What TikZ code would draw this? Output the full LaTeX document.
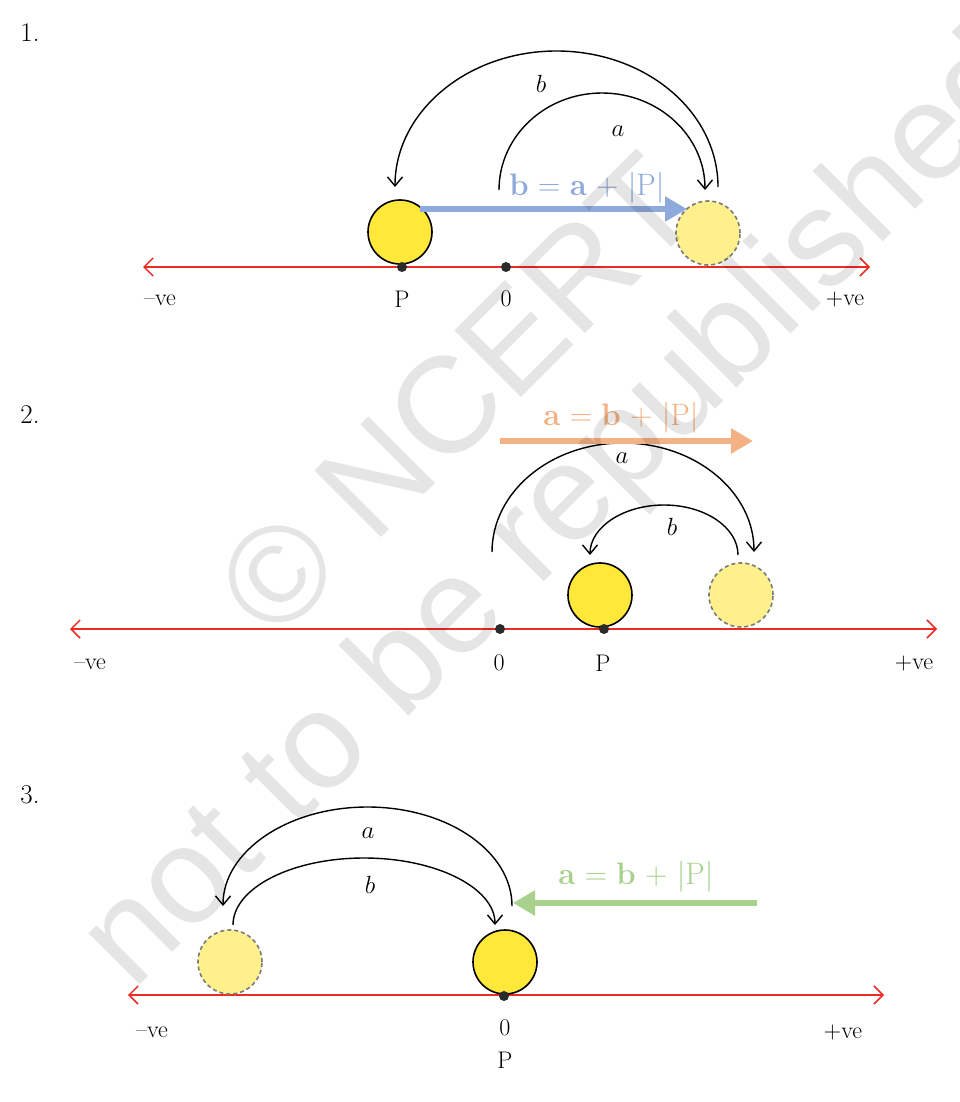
\documentclass[tikz,border=0pt]{standalone}
\usepackage{fontspec}
\newfontfamily\wmfont{Liberation Sans}
\usetikzlibrary{arrows.meta}
\definecolor{axisred}{HTML}{EE2A24}
\definecolor{sunfill}{HTML}{FFE83A}
\definecolor{ghostfill}{HTML}{FFF08C}
\definecolor{ghostedge}{HTML}{7A7A7A}
\definecolor{dotc}{HTML}{2B2B2B}
\definecolor{eqblue}{HTML}{8EA9DB}
\definecolor{eqorange}{HTML}{F4B183}
\definecolor{eqgreen}{HTML}{A9D18E}
\begin{document}
\begin{tikzpicture}[x=1pt,y=-1pt,
  axis/.style={draw=axisred, line width=1.5pt, {Straight Barb[length=9pt,width=18pt]}-{Straight Barb[length=9pt,width=18pt]}},
  sun/.style={circle, draw=black, line width=1.6pt, fill=sunfill, minimum size=64pt, inner sep=0pt},
  ghost/.style={circle, draw=ghostedge, dash pattern=on 4pt off 3pt, line width=1.6pt, fill=ghostfill, minimum size=64pt, inner sep=0pt},
  pt/.style={circle, fill=dotc, minimum size=10pt, inner sep=0pt},
  lab/.style={font=\fontsize{24}{24}\selectfont, inner sep=0pt},
  num/.style={font=\fontsize{27}{27}\selectfont, inner sep=0pt},
  jump/.style={draw=black, line width=1.4pt, -{Straight Barb[length=9pt,width=15pt]}},
  jl/.style={font=\fontsize{27}{27}\selectfont, inner sep=0pt},
  eq/.style={font=\fontsize{31}{31}\selectfont, inner sep=0pt},
  shiftarrow/.style={line width=5.5pt, -{Triangle[length=22pt,width=24pt]}},
  wm/.style={font=\wmfont\fontsize{137}{137}\selectfont, text=black, text opacity=0.10, rotate=45, inner sep=0pt, anchor=base west},
]
\useasboundingbox (0,0) rectangle (960,1102);
\clip (0,0) rectangle (960,1102);
\fill[white] (0,0) rectangle (960,1102);

% ---------- Diagram 1 ----------
\node[num] (n1) at (30,33) {1.};
\coordinate (L1) at (143,267);
\coordinate (R1) at (870,267);
\draw[axis] (L1) -- (R1);
\node[sun] (s1) at (400,232) {};
\node[ghost] (g1) at (708,233) {};
\node[pt] (p1) at (402,267) {};
\node[pt] (z1) at (506,267) {};
\node[lab] (mv1) at (160,300) {--ve};
\node[lab] (lp1) at (402,299) {P};
\node[lab] (l01) at (506,299) {0};
\node[lab] (pv1) at (845,300) {+ve};
\coordinate (b1s) at (718,187);
\draw[jump] (b1s) arc[start angle=0, end angle=180, x radius=161.5pt, y radius=136pt];
\node[jl] (bl1) at (541,84) {$b$};
\coordinate (a1s) at (499,190);
\draw[jump] (a1s) arc[start angle=180, end angle=0, x radius=103pt, y radius=97pt];
\node[jl] (al1) at (618,131) {$a$};
\coordinate (e1s) at (420,209);
\coordinate (e1e) at (687,209);
\draw[shiftarrow, eqblue, fill=eqblue] (e1s) -- (e1e);
\node[eq, text=eqblue] (eq1) at (587,188) {\textbf{b} = \textbf{a} + |P|};

% ---------- Diagram 2 ----------
\node[num] (n2) at (30,415) {2.};
\coordinate (L2) at (70,629);
\coordinate (R2) at (937,629);
\draw[axis] (L2) -- (R2);
\node[sun] (s2) at (600,595) {};
\node[ghost] (g2) at (741,595) {};
\node[pt] (z2) at (500,629) {};
\node[pt] (p2) at (604,629) {};
\node[lab] (mv2) at (90,664) {--ve};
\node[lab] (l02) at (499,663) {0};
\node[lab] (lp2) at (603,663) {P};
\node[lab] (pv2) at (914,664) {+ve};
\coordinate (a2s) at (492,552);
\draw[jump] (a2s) arc[start angle=180, end angle=0, x radius=131pt, y radius=109pt];
\node[jl] (al2) at (622,458) {$a$};
\coordinate (b2s) at (738,555);
\draw[jump] (b2s) arc[start angle=0, end angle=180, x radius=74pt, y radius=50pt];
\node[jl] (bl2) at (672,527) {$b$};
\coordinate (e2s) at (500,441);
\coordinate (e2e) at (753,441);
\draw[shiftarrow, eqorange, fill=eqorange] (e2s) -- (e2e);
\node[eq, text=eqorange] (eq2) at (621,418) {\textbf{a} = \textbf{b} + |P|};

% ---------- Diagram 3 ----------
\node[num] (n3) at (30,795) {3.};
\coordinate (L3) at (128,995);
\coordinate (R3) at (884,995);
\draw[axis] (L3) -- (R3);
\node[ghost] (g3) at (230,962) {};
\node[sun] (s3) at (505,962) {};
\node[pt] (z3) at (504,996) {};
\node[lab] (mv3) at (152,1032) {--ve};
\node[lab] (l03) at (505,1028) {0};
\node[lab] (lp3) at (505,1060) {P};
\node[lab] (pv3) at (843,1032) {+ve};
\coordinate (a3s) at (512,906);
\draw[jump] (a3s) arc[start angle=0, end angle=180, x radius=144.5pt, y radius=99pt];
\node[jl] (al3) at (368,833) {$a$};
\coordinate (b3s) at (233,925);
\draw[jump] (b3s) arc[start angle=180, end angle=0, x radius=131pt, y radius=67pt];
\node[jl] (bl3) at (370,885) {$b$};
\coordinate (e3s) at (757,903);
\coordinate (e3e) at (513,903);
\draw[shiftarrow, eqgreen, fill=eqgreen] (e3s) -- (e3e);
\node[eq, text=eqgreen] (eq3) at (636,877) {\textbf{a} = \textbf{b} + |P|};

% ---------- Watermark ----------
\node[wm] (w1) at (275,644) {© NCERT};
\node[wm] (w2) at (133,992) {not to be republished};
\end{tikzpicture}
\end{document}
